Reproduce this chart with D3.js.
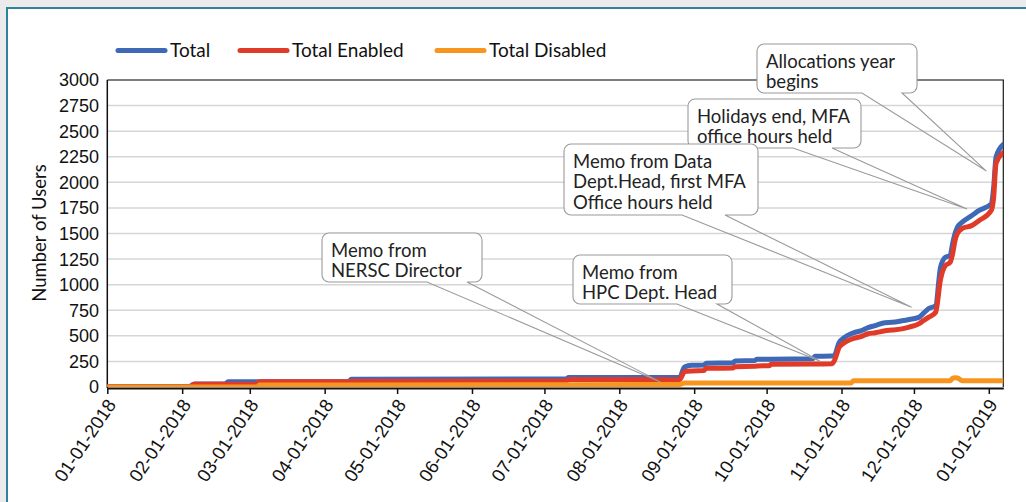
<!DOCTYPE html>
<html>
<head>
<meta charset="utf-8">
<script src="https://cdn.jsdelivr.net/npm/d3@7"></script>
<style>
  html, body { margin: 0; padding: 0; background: #ebebeb; }
  svg { display: block; }
</style>
</head>
<body>
<svg id="chart" width="1026" height="502"></svg>
<script>
// ---------------- data ----------------
const dates = [
  "2018-01-01","2018-02-04","2018-02-06","2018-02-19","2018-02-20","2018-03-04","2018-03-05",
  "2018-04-11","2018-04-12","2018-07-10","2018-07-11","2018-08-26","2018-08-28","2018-08-31",
  "2018-09-05","2018-09-06","2018-09-17","2018-09-18","2018-09-26","2018-09-27","2018-10-02",
  "2018-10-03","2018-10-20","2018-10-21","2018-10-28","2018-10-29","2018-10-31","2018-11-02",
  "2018-11-05","2018-11-06","2018-11-09","2018-11-12","2018-11-15","2018-11-19","2018-11-22",
  "2018-11-26","2018-11-29","2018-12-03","2018-12-05","2018-12-07",
  "2018-12-10","2018-12-12","2018-12-14","2018-12-16","2018-12-17","2018-12-18","2018-12-19",
  "2018-12-21","2018-12-25","2018-12-28","2019-01-02","2019-01-03","2019-01-04","2019-01-07"
];
const totalUsers = [
  5,5,30,30,52,52,52,
  52,75,78,93,95,196,212,
  215,232,235,255,258,271,272,
  272,275,300,302,305,434,480,
  520,530,548,580,600,628,632,
  647,660,680,722,765,
  795,1170,1268,1285,1400,1497,1560,
  1611,1676,1725,1790,1950,2248,2370
];
const enabledUsers = [
  3,3,27,27,27,27,52,
  52,56,58,73,72,150,157,
  160,183,185,199,202,205,208,
  222,225,225,228,255,385,430,
  467,475,492,520,530,550,556,
  568,585,617,650,680,
  730,1050,1186,1218,1300,1430,1500,
  1549,1578,1627,1725,1850,2186,2290
];
const disabledUsers = [
  0,0,0,0,0,0,20,
  20,20,22,22,25,38,38,
  38,38,38,38,38,38,38,
  38,38,38,38,38,38,38,
  40,62,62,62,62,62,62,
  62,62,62,62,62,
  62,62,62,62,85,90,88,
  62,62,62,62,62,62,62
];
const seriesNames = ["Total", "Total Enabled", "Total Disabled"];
const seriesColors = ["#3f69b6", "#e03b28", "#f7951e"];
const yTicks = [0,250,500,750,1000,1250,1500,1750,2000,2250,2500,2750,3000];

const annotationLines = [
  ["Allocations year", "begins"],
  ["Holidays end, MFA", "office hours held"],
  ["Memo from Data", "Dept.Head, first MFA", "Office hours held"],
  ["Memo from", "HPC Dept. Head"],
  ["Memo from", "NERSC Director"]
];
const annotationDates = ["2018-12-31", "2018-12-23", "2018-11-30", "2018-10-23", "2018-08-18"];
const annotationValues = [2110, 1740, 780, 255, 50];

// ---------------- layout ----------------
const W = 1026, H = 502;
const plot = { left: 107.3, right: 1003.3, top: 80, bottom: 387 };
const boxes = [ // x, y, w, h, pointer base x1, x2
  { x: 757, y: 44, w: 160, h: 49, b1: 862, b2: 902 },
  { x: 688, y: 99, w: 173, h: 49, b1: 793, b2: 832 },
  { x: 564, y: 144, w: 194, h: 71, b1: 682, b2: 725 },
  { x: 573, y: 255, w: 159, h: 49, b1: 677, b2: 717 },
  { x: 322, y: 233, w: 160, h: 49, b1: 427, b2: 467 }
];
const uiFont = "Lato, 'Noto Sans', sans-serif";
const numFont = "'Liberation Sans', Arial, sans-serif";

const parse = d3.utcParse("%Y-%m-%d");
const svg = d3.select("#chart");

// background card
svg.append("rect").attr("x", 0).attr("y", 0).attr("width", W).attr("height", H).attr("fill", "#ebebeb");
svg.append("rect").attr("x", 7).attr("y", 8).attr("width", W + 20).attr("height", H + 20)
  .attr("fill", "#ffffff").attr("stroke", "#2f81a0").attr("stroke-width", 2);

const x = d3.scaleUtc()
  .domain([parse("2018-01-01"), parse("2019-01-07")])
  .range([plot.left, plot.right]);
const y = d3.scaleLinear().domain([0, 3000]).range([plot.bottom, plot.top]);

// gridlines
svg.append("g").selectAll("line").data(yTicks.filter(v => v > 0)).join("line")
  .attr("x1", plot.left).attr("x2", plot.right)
  .attr("y1", d => y(d)).attr("y2", d => y(d))
  .attr("stroke", "#d6d6d6").attr("stroke-width", 1.5);

// plot frame (top/right)
svg.append("path")
  .attr("d", `M${plot.left},${plot.top}H${plot.right}V${plot.bottom}`)
  .attr("fill", "none").attr("stroke", "#1a1a1a").attr("stroke-width", 1.2);

// y axis labels
svg.append("g").selectAll("text").data(yTicks).join("text")
  .attr("x", 99).attr("y", d => y(d)).attr("dy", "0.36em")
  .attr("text-anchor", "end")
  .attr("font-family", numFont).attr("font-size", 18)
  .attr("fill", "#111").text(d => d);

// y axis line
svg.append("line").attr("x1", plot.left).attr("x2", plot.left)
  .attr("y1", plot.top).attr("y2", plot.bottom + 1)
  .attr("stroke", "#111").attr("stroke-width", 1.5);

// x axis
const xAxis = d3.axisBottom(x)
  .ticks(d3.utcMonth.every(1))
  .tickFormat(d3.utcFormat("%m-%d-%Y"))
  .tickSizeOuter(0).tickSizeInner(6).tickPadding(4);
const gx = svg.append("g").attr("transform", `translate(0,${plot.bottom + 1})`).call(xAxis);
gx.select(".domain").attr("stroke", "#111").attr("stroke-width", 2);
gx.selectAll(".tick line").attr("stroke", "#111").attr("stroke-width", 1.5);
gx.selectAll(".tick text")
  .attr("font-family", numFont).attr("font-size", 18.5)
  .attr("fill", "#111")
  .attr("text-anchor", "end")
  .attr("dy", null).attr("y", null)
  .attr("transform", "translate(5,14) rotate(-56)")
  .attr("dominant-baseline", "middle");

// y title
svg.append("text")
  .attr("transform", "translate(46,233) rotate(-90)")
  .attr("text-anchor", "middle")
  .attr("font-family", uiFont).attr("font-size", 18.5)
  .attr("fill", "#111").text("Number of Users");

// clip
svg.append("clipPath").attr("id", "clip").append("rect")
  .attr("x", plot.left).attr("y", plot.top - 5)
  .attr("width", plot.right - plot.left).attr("height", plot.bottom - plot.top + 5);

const seriesValues = [totalUsers, enabledUsers, disabledUsers];
const line = d3.line()
  .x(d => x(d.date)).y(d => y(d.value))
  .curve(d3.curveMonotoneX);

const lineG = svg.append("g").attr("clip-path", "url(#clip)");
seriesValues.forEach((vals, i) => {
  const data = dates.map((d, j) => ({ date: parse(d), value: vals[j] }));
  lineG.append("path").datum(data)
    .attr("d", line)
    .attr("fill", "none")
    .attr("stroke", seriesColors[i])
    .attr("stroke-width", 5)
    .attr("stroke-linejoin", "round")
    .attr("stroke-linecap", "round");
});

// legend
const legendX = [118, 240, 437];
seriesNames.forEach((name, i) => {
  svg.append("line").attr("x1", legendX[i]).attr("x2", legendX[i] + 47)
    .attr("y1", 50.5).attr("y2", 50.5)
    .attr("stroke", seriesColors[i]).attr("stroke-width", 5).attr("stroke-linecap", "round");
  svg.append("text").attr("x", legendX[i] + 52).attr("y", 56.5)
    .attr("font-family", uiFont).attr("font-size", 19)
    .attr("fill", "#111").text(name);
});

// callouts
boxes.forEach((b, i) => {
  const tx = x(parse(annotationDates[i])), ty = y(annotationValues[i]);
  const r = 7;
  const g = svg.append("g");
  g.append("rect").attr("x", b.x).attr("y", b.y).attr("width", b.w).attr("height", b.h)
    .attr("rx", r).attr("fill", "#fff");
  const p = d3.path();
  p.moveTo(b.x + r, b.y);
  p.lineTo(b.x + b.w - r, b.y);
  p.arcTo(b.x + b.w, b.y, b.x + b.w, b.y + r, r);
  p.lineTo(b.x + b.w, b.y + b.h - r);
  p.arcTo(b.x + b.w, b.y + b.h, b.x + b.w - r, b.y + b.h, r);
  p.lineTo(b.b2, b.y + b.h);
  p.lineTo(tx, ty);
  p.lineTo(b.b1, b.y + b.h);
  p.lineTo(b.x + r, b.y + b.h);
  p.arcTo(b.x, b.y + b.h, b.x, b.y + b.h - r, r);
  p.lineTo(b.x, b.y + r);
  p.arcTo(b.x, b.y, b.x + r, b.y, r);
  p.closePath();
  g.append("path").attr("d", p.toString()).attr("fill", "none")
    .attr("stroke", "#9a9a9a").attr("stroke-width", 1.1);
  annotationLines[i].forEach((t, k) => {
    g.append("text").attr("x", b.x + 9).attr("y", b.y + 23.5 + k * 20.5)
      .attr("font-family", uiFont).attr("font-size", 18.5)
      .attr("fill", "#222").text(t);
  });
});
</script>
</body>
</html>
